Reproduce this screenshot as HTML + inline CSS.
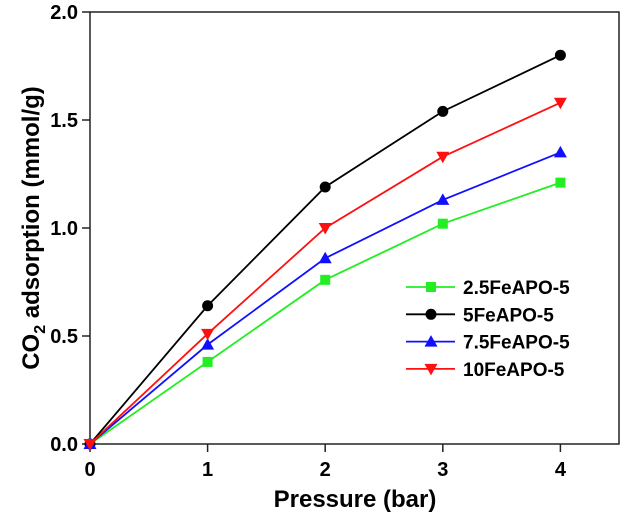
<!DOCTYPE html>
<html><head><meta charset="utf-8"><style>
body{margin:0;background:#fff;}
svg{display:block;font-family:"Liberation Sans",Arial,sans-serif;font-weight:bold;}
</style></head><body>
<svg id="chart" width="630" height="523" viewBox="0 0 630 523">
<g id="axes"></g><g id="series"></g><g id="legend"></g>
<text x="355" y="507" font-size="24" text-anchor="middle">Pressure (bar)</text>
<text transform="translate(39,228) rotate(-90)" font-size="24" text-anchor="middle">CO<tspan font-size="16" dy="6">2</tspan><tspan dy="-6"> adsorption (mmol/g)</tspan></text>
</svg>
<script>
const categories=[0,1,2,3,4];
const seriesNames=["2.5FeAPO-5","5FeAPO-5","7.5FeAPO-5","10FeAPO-5"];
const s25=[0,0.38,0.76,1.02,1.21];
const s5=[0,0.64,1.19,1.54,1.80];
const s75=[0,0.46,0.86,1.13,1.35];
const s10=[0,0.51,1.00,1.33,1.58];
const xTicks=[0,1,2,3,4];
const yTicks=[0.0,0.5,1.0,1.5,2.0];
const NS="http://www.w3.org/2000/svg";
const X0=90,X1=619,Y0=444,Y1=12;
const xs=v=>X0+v*117.6;
const ys=v=>Y0-v*(Y0-Y1)/2;
function mk(t,a,p){const e=document.createElementNS(NS,t);for(const k in a)e.setAttribute(k,a[k]);p.appendChild(e);return e;}
const ax=document.getElementById('axes');
const fr=mk('rect',{x:X0,y:Y1,width:X1-X0,height:Y0-Y1,fill:'none',stroke:'#222','stroke-width':1.5},ax);


xTicks.forEach(v=>{
 const l=mk('line',{x1:xs(v),x2:xs(v),y1:Y0,y2:Y0+8,stroke:'#222','stroke-width':1.5},ax);
 
 
 const t=mk('text',{x:xs(v),y:Y0+32,'font-size':20,'text-anchor':'middle'},ax);t.textContent=v;
 
 
});
yTicks.forEach(v=>{
 const l=mk('line',{x1:X0-8,x2:X0,y1:ys(v),y2:ys(v),stroke:'#222','stroke-width':1.5},ax);
 
 
 const t=mk('text',{x:X0-12,y:ys(v)+7,'font-size':20,'text-anchor':'end'},ax);t.textContent=v.toFixed(1);
 
 
});
const colors=['#22ee22','#000000','#1010ff','#ff1010'];
const markers=['square','circle','up','down'];
const data=[s25,s5,s75,s10];
function marker(type,x,y,c,p){
 let e;
 if(type==='square')e=mk('rect',{x:x-5,y:y-5,width:10,height:10,fill:c},p);
 else if(type==='circle')e=mk('circle',{cx:x,cy:y,r:5.5,fill:c},p);
 else if(type==='up')e=mk('polygon',{points:`${x},${y-6.5} ${x-6.5},${y+5} ${x+6.5},${y+5}`,fill:c},p);
 else e=mk('polygon',{points:`${x},${y+6.5} ${x-6.5},${y-5} ${x+6.5},${y-5}`,fill:c},p);
 return e;
}
const sg=document.getElementById('series');
data.forEach((d,i)=>{
 const g=mk('g',{},sg);
 
 
 const pl=mk('polyline',{points:d.map((v,j)=>xs(categories[j])+','+ys(v)).join(' '),fill:'none',stroke:colors[i],'stroke-width':1.8},g);
 
 
 d.forEach((v,j)=>{const m=marker(markers[i],xs(categories[j]),ys(v),colors[i],g);
  
  });
});
const lg=document.getElementById('legend');
seriesNames.forEach((n,i)=>{
 const y=287+i*27.3;
 const g=mk('g',{},lg);
 
 
 mk('line',{x1:406,x2:455,y1:y,y2:y,stroke:colors[i],'stroke-width':1.8},g);
 marker(markers[i],431,y,colors[i],g);
 const t=mk('text',{x:463,y:y+7,'font-size':19},g);t.textContent=n;
});
</script>
</body></html>
